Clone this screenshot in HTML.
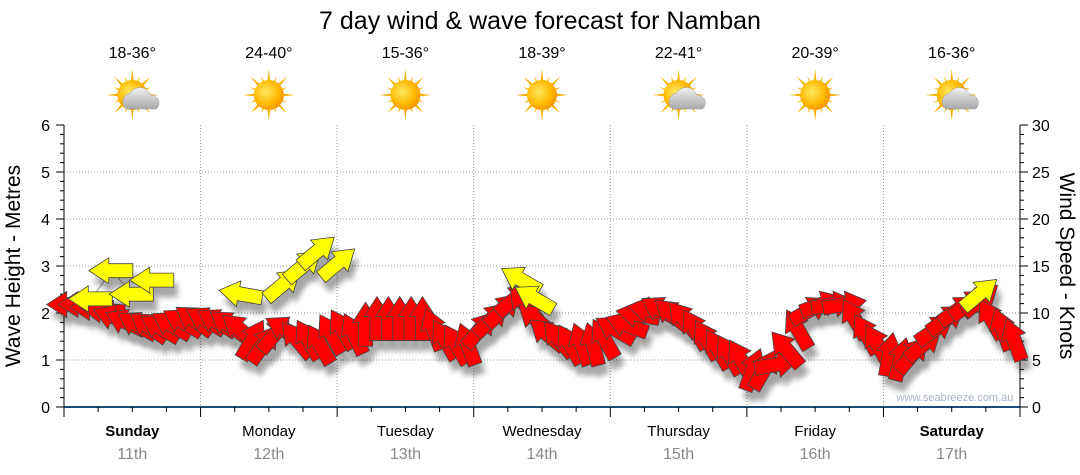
<!DOCTYPE html>
<html><head><meta charset="utf-8"><style>
body{margin:0;background:#fff;}
svg{display:block;font-family:"Liberation Sans","DejaVu Sans",sans-serif;}
</style></head><body>
<svg id="chart" width="1080" height="475" viewBox="0 0 1080 475">
<defs>
<radialGradient id="sunG" cx="0.4" cy="0.4" r="0.7"><stop offset="0" stop-color="#ffe860"/><stop offset="0.6" stop-color="#ffb800"/><stop offset="1" stop-color="#f08a00"/></radialGradient>
<linearGradient id="cloudG" x1="0" y1="0" x2="0" y2="1"><stop offset="0" stop-color="#f2f2f2"/><stop offset="1" stop-color="#a8a8a8"/></linearGradient>
<filter id="shadow" x="-50%" y="-50%" width="200%" height="200%"><feGaussianBlur stdDeviation="3"/></filter>
</defs>
<text x="540" y="29" text-anchor="middle" font-size="25" fill="#000">7 day wind &amp; wave forecast for Namban</text>
<g id="grid"></g>
<g id="icons"></g>
<g id="axes"></g>
<g id="waveline"></g>
<g id="shadows" opacity="0.35"></g>
<g id="marks"></g>
<text x="955" y="401" text-anchor="middle" font-size="11" fill="#aab4c4">www.seabreeze.com.au</text>
<text transform="translate(20,266) rotate(-90)" text-anchor="middle" font-size="21">Wave Height - Metres</text>
<text transform="translate(1060,266) rotate(90)" text-anchor="middle" font-size="21">Wind Speed - Knots</text>
</svg>
<script>
const days = ["Sunday","Monday","Tuesday","Wednesday","Thursday","Friday","Saturday"];
const dates = ["11th","12th","13th","14th","15th","16th","17th"];
const temps = ["18-36°","24-40°","15-36°","18-39°","22-41°","20-39°","16-36°"];
const cloudy = [true,false,false,false,true,false,true];
const leftTicks = [0,1,2,3,4,5,6];
const rightTicks = [0,5,10,15,20,25,30];
// wind, 2-hourly (12 per day)
const windSpeed = [10.9,10.9,10.6,10.3,9.5,9.0,8.7,8.5,8.4,8.7,9.0,9.2,
 9.2,9.0,8.7,8.2,7.1,6.6,7.7,8.2,7.1,7.1,6.6,7.7,
 8.2,7.7,8.7,9.3,9.3,9.3,9.3,9.3,8.2,7.1,6.6,6.6,
 8.2,9.3,10.3,11.4,10.9,9.3,7.7,7.2,6.6,6.6,6.6,7.2,
 8.2,8.7,9.8,10.3,10.3,9.8,9.3,8.2,7.1,6.1,5.5,5.0,
 3.9,3.9,4.5,6.1,8.2,10.3,10.9,10.9,10.9,9.3,7.7,6.6,
 5.5,5.0,5.5,6.6,8.2,9.3,10.3,10.9,11.4,9.3,8.2,7.1];
const windDir = [270,270,270,275,290,295,300,305,300,300,300,305,
 300,300,305,310,30,35,40,300,320,330,330,330,
 330,335,0,0,0,0,0,0,340,330,330,340,
 40,45,45,50,320,310,310,320,330,340,345,330,
 300,290,280,280,300,310,320,330,330,330,330,330,
 20,30,80,320,330,60,70,80,80,330,330,330,
 10,15,40,50,55,55,55,55,50,330,340,340];
// waves (time in days, height m, direction)
const waveTime = [0.2,0.35,0.5,0.65,1.3,1.6,1.75,1.85,2.0,3.35,3.45,6.7];
const waveHeight = [2.3,2.9,2.4,2.7,2.4,2.6,3.0,3.3,3.05,2.7,2.3,2.4];
const waveDir = [270,270,270,270,280,50,50,50,50,300,300,50];

const NS="http://www.w3.org/2000/svg";
const X0=64,X1=1020,Y0=407,YT=125;
const dayW=(X1-X0)/7;
const xT=t=>X0+t*dayW;
const yM=m=>Y0-m*(Y0-YT)/6;
const yK=k=>Y0-k*(Y0-YT)/30;
function el(tag,attrs,parent,text){const e=document.createElementNS(NS,tag);for(const k in attrs)e.setAttribute(k,attrs[k]);if(text!==undefined)e.textContent=text;parent.appendChild(e);return e;}
const grid=document.getElementById('grid'),axes=document.getElementById('axes'),icons=document.getElementById('icons');
for(let d=1;d<7;d++){const g=el('line',{x1:xT(d),x2:xT(d),y1:YT,y2:Y0,stroke:'#999','stroke-dasharray':'1,2'},grid);

}
leftTicks.forEach(v=>{if(v>0&&v<6){const g=el('line',{x1:X0,x2:X1,y1:yM(v),y2:yM(v),stroke:'#999','stroke-dasharray':'1,2'},grid);

}
const t=el('text',{x:50,y:yM(v)+6,'text-anchor':'end','font-size':16,fill:'#000'},axes,String(v));

});
rightTicks.forEach(v=>{const t=el('text',{x:1032,y:yK(v)+6,'font-size':16,fill:'#000'},axes,String(v));

});
el('line',{x1:X0,x2:X0,y1:YT,y2:Y0,stroke:'#000'},axes);
el('line',{x1:X1,x2:X1,y1:YT,y2:Y0,stroke:'#000'},axes);
el('line',{x1:X0,x2:X1,y1:Y0,y2:Y0,stroke:'#1a4a7a','stroke-width':2},axes);
for(let i=0;i<=30;i++){const y=Y0-i*(Y0-YT)/30;const L=i%5==0?8:4;
el('line',{x1:X0,x2:X0-L,y1:y,y2:y,stroke:'#000'},axes);
el('line',{x1:X1,x2:X1+L,y1:y,y2:y,stroke:'#000'},axes);}
for(let i=0;i<=28;i++){const x=X0+i*dayW/4;el('line',{x1:x,x2:x,y1:Y0,y2:Y0+(i%4==0?10:5),stroke:'#000'},axes);}
days.forEach((d,i)=>{const cx=xT(i+0.5);
const a=el('text',{x:cx,y:436,'text-anchor':'middle','font-size':15,'font-weight':(i==0||i==6)?'bold':'normal'},axes,d);


const b=el('text',{x:cx,y:459,'text-anchor':'middle','font-size':16,fill:'#888'},axes,dates[i]);


const c=el('text',{x:cx,y:58,'text-anchor':'middle','font-size':16},icons,temps[i]);


const g=el('g',{transform:`translate(${cx},95)`},icons);


for(let r=0;r<16;r++){const ang=r*22.5,len=r%2?20:26;el('polygon',{points:`-3,0 3,0 0,-${len}`,fill:'#f5b000',transform:`rotate(${ang})`},g);}
el('circle',{r:15,fill:'url(#sunG)'},g);
if(cloudy[i]){el('path',{d:'M-10,14 a9,9 0 0 1 4,-16 a11,11 0 0 1 20,2 a8,8 0 0 1 6,14 z',fill:'url(#cloudG)',stroke:'#999','stroke-width':0.5,transform:'translate(4,0)'},g);}
});
const arrowPath='M0,-23 L13,-3 L7,-3 L7,21 L-7,21 L-7,-3 L-13,-3 Z';
const marks=document.getElementById('marks'),shadows=document.getElementById('shadows'),wl=document.getElementById('waveline');
for(let i=1;i<waveTime.length;i++){
if(waveTime[i]-waveTime[i-1]<0.3){el('line',{x1:xT(waveTime[i-1]),y1:yM(waveHeight[i-1]),x2:xT(waveTime[i]),y2:yM(waveHeight[i]),stroke:'#999','stroke-width':1},wl);}}
function drawArrow(x,y,dir,fill,name){
el('path',{d:arrowPath,fill:'#000',filter:'url(#shadow)',transform:`translate(${x+4},${y+10}) rotate(${dir})`},shadows);
const a=el('path',{d:arrowPath,fill:fill,stroke:'#444','stroke-width':0.8,transform:`translate(${x},${y}) rotate(${dir})`},marks);

}
windSpeed.forEach((k,i)=>{drawArrow(xT((i+0.5)/12),yK(k),windDir[i],'#ff0000','wind-arrow');});
waveTime.forEach((t,i)=>{drawArrow(xT(t),yM(waveHeight[i]),waveDir[i],'#ffff00','wave-arrow');});
</script>
</body></html>
